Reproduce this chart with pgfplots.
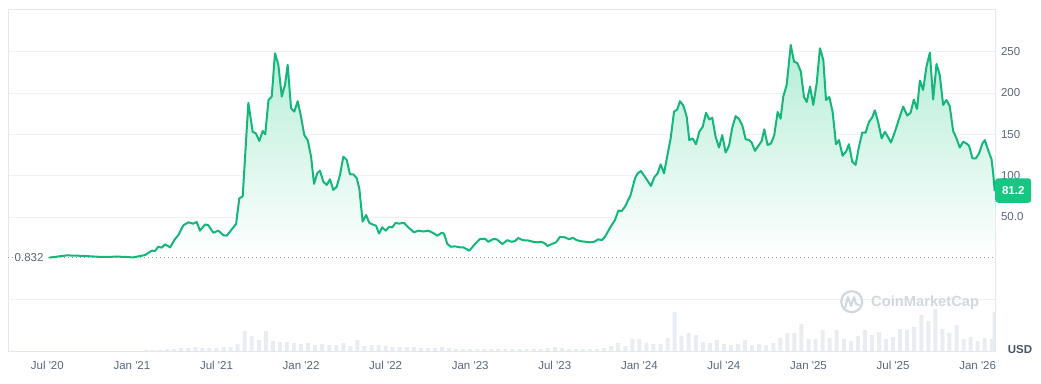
\documentclass[border=0pt]{standalone}
\usepackage{fontspec}
\setmainfont{Liberation Sans}[Ligatures=TeXOff]
\usepackage{pgfplots}
\usepackage{pgfplotstable}
\pgfplotsset{compat=1.18}
\definecolor{cmcgreen}{HTML}{16C784}
\definecolor{tickgray}{HTML}{58667E}
\definecolor{gridgray}{HTML}{EFF2F5}
\definecolor{framegray}{HTML}{E4E8EE}
\definecolor{volgray}{HTML}{E9ECF1}
\definecolor{wmgray}{HTML}{D2D7DF}
\definecolor{dotgray}{HTML}{9AA2AE}

\pgfplotstableread{
m p
6.14 0.9
7.38 3.6
8.55 3.0
9.74 1.8
10.92 2.0
11.16 2.0
12.08 1.2
12.58 2.8
12.93 4.0
13.41 9.3
13.64 9.0
13.87 14
14.12 13
14.35 17
14.71 13.3
15.06 23.4
15.29 28
15.65 40
16.00 43.5
16.36 42
16.60 44
16.83 33.5
17.19 41
17.42 40
17.78 31
18.13 33.5
18.49 28
18.73 27.4
19.08 35
19.39 41.5
19.62 72.6
19.86 75
20.26 188
20.57 153
20.80 151
21.04 142
21.28 154
21.46 150
21.69 191.5
21.92 195.6
22.15 248
22.39 234
22.63 195.6
22.86 209.7
23.05 234
23.29 181.5
23.52 177.4
23.76 190
24.00 171
24.23 149
24.47 143
24.71 123
24.92 90
25.15 103
25.34 106
25.58 92.7
25.82 88.7
26.05 95.6
26.29 82.7
26.53 86.7
26.76 100.8
27.00 123
27.24 119
27.47 101.6
27.71 101.6
27.95 96.8
28.13 84.7
28.37 44.4
28.61 52.4
28.84 43
29.08 41
29.32 39.5
29.53 30
29.76 37.5
30.01 33.5
30.24 38
30.47 37.5
30.71 43
30.95 42
31.30 43
31.61 37.5
32.01 31.5
32.32 33.5
32.67 32.5
33.03 33.5
33.34 31
33.67 27.4
33.98 31
34.14 30
34.38 17.3
34.62 14
34.92 14.5
35.28 13.3
35.51 13.3
35.94 9.3
36.34 17.3
36.70 23.4
37.05 23.8
37.28 20
37.64 23.4
37.88 23
38.28 17.3
38.63 22
38.94 20
39.18 21
39.41 24.6
39.72 22
40.12 21.6
40.48 20
40.79 19.4
41.07 20
41.36 17.3
41.47 15
41.78 17.3
42.09 19.4
42.37 26
42.73 25.4
43.03 23
43.27 25
43.55 22
43.91 20.6
44.21 20
44.50 19.4
44.78 20
45.09 23
45.33 22
45.56 26
45.92 37
46.27 46.4
46.51 57.7
46.75 57.3
46.98 62.5
47.38 76.6
47.69 96.8
47.88 102.8
48.11 105.6
48.47 96.8
48.82 87.5
49.06 98
49.30 102.8
49.51 113.7
49.75 102.8
49.98 123.8
50.22 145
50.46 177.4
50.69 180
50.88 190
51.12 184.7
51.36 171
51.54 143
51.78 145
52.02 138
52.25 153
52.49 159
52.73 176
52.96 168
53.17 170
53.41 147
53.65 134
53.88 149
54.12 128
54.36 136
54.59 158
54.83 172
55.07 168.5
55.30 161
55.54 144
55.78 143
55.97 140
56.20 130
56.44 136
56.68 142
56.86 156
57.10 137
57.34 139
57.57 149
57.81 177
58.02 169
58.21 195.6
58.45 209.7
58.74 258
58.97 238
59.21 236
59.45 226
59.68 195
59.87 189
60.11 207.7
60.34 185.5
60.58 211.7
60.81 254
61.05 240
61.24 191.5
61.48 195
61.71 177
61.95 138
62.16 143
62.42 124
62.66 129
62.87 138
63.10 117
63.34 113
63.58 135
63.81 152
64.05 152
64.29 165
64.52 170.6
64.71 179
64.95 164
65.19 145
65.42 153
65.66 146
65.85 140
66.13 153
66.41 168
66.72 183.5
67.00 172.6
67.24 176
67.47 192
67.70 180.6
67.90 215
68.13 203.6
68.37 232
68.61 248.8
68.84 192
69.08 235
69.31 221.8
69.55 185.5
69.79 191.5
70.02 184
70.26 154
70.50 145
70.73 134
70.97 141
71.21 139
71.39 136
71.63 121
71.87 121
72.10 127
72.34 139
72.51 143
72.74 131
72.98 120
73.10 103
73.21 81.2
}\pricedata

\pgfplotstableread{
m v
13 1
13.5 1
14 1
14.5 2
15 2
15.5 3
16 3
16.5 4
17 3
17.5 3
18 3
18.5 4
19 4
19.5 7
20 20
20.5 15
21 11
21.5 20
22 10
22.5 9
23 9
23.5 8
24 7
24.5 8
25 6
25.5 7
26 6
26.5 6
27 8
27.5 5
28 11
28.5 5
29 6
29.5 6
30 5
30.5 4
31 4
31.5 4
32 4
32.5 3
33 3
33.5 3
34 4
34.5 3
35 2
35.5 2
36 2
36.5 2
37 2
37.5 2
38 2
38.5 2
39 2
39.5 2
40 2
40.5 2
41 2
41.5 3
42 4
42.5 3
43 2
43.5 2
44 2
44.5 2
45 2
45.5 3
46 5
46.5 8
47 5
47.5 12
48 12
48.5 8
49 7
49.5 7
50 13
50.5 39
51 15
51.5 18
52 16
52.5 9
53 8
53.5 11
54 7
54.5 6
55 7
55.5 11
56 6
56.5 7
57 6
57.5 8
58 13
58.5 18
59 18
59.5 27
60 12
60.5 12
61 21
61.5 13
62 21
62.5 12
63 10
63.5 15
64 21
64.5 16
65 19
65.5 12
66 14
66.5 22
67 21
67.5 24
68 36
68.5 30
69 42
69.5 22
70 18
70.5 26
71 12
71.5 14
72 10
72.5 13
73 12
73.2 39
}\voldata

\begin{document}
\begin{tikzpicture}
\useasboundingbox (0,0) rectangle (1041pt,383pt);
% volume
\begin{axis}[at={(8pt,32pt)}, anchor=south west, width=987pt, height=342pt, scale only axis,
  xmin=3.21, xmax=73.23, ymin=0, ymax=342, hide axis]
\addplot[ybar, bar width=4pt, fill=volgray, draw=none] table[x=m,y=v]{\voldata};
\end{axis}
% price
\begin{axis}[at={(8pt,32pt)}, anchor=south west, width=987pt, height=342pt, scale only axis,
  xmin=3.21, xmax=73.23, ymin=-112, ymax=301.5,
  clip=false,
  axis line style={framegray, line width=0.8pt},
  xtick={6,12,18,24,30,36,42,48,54,60,66,72},
  xticklabels={Jul '20,Jan '21,Jul '21,Jan '22,Jul '22,Jan '23,Jul '23,Jan '24,Jul '24,Jan '25,Jul '25,Jan '26},
  ytick={50,100,150,200,250},
  yticklabels={50.0,100,150,200,250},
  yticklabel pos=right,
  ymajorgrids, grid style={gridgray, line width=0.8pt},
  extra y ticks={-50}, extra y tick labels={},
  extra y tick style={ymajorgrids=true},
  major tick length=0pt,
  /pgf/number format/assume math mode=true,
  tick label style={font=\fontsize{11.5}{13}\selectfont, text=tickgray},
  xticklabel style={yshift=-7pt},
  yticklabel style={anchor=west, xshift=2.5pt},
]
\addplot[draw=none, top color=cmcgreen!32!white, bottom color=white, forget plot]
  table[x=m,y=p]{\pricedata} \closedcycle;
\draw[dotgray, line width=1pt, dash pattern=on 1pt off 3pt] (axis cs:3.21,0.832) -- (axis cs:73.23,0.832);
\addplot[cmcgreen!92!black, line width=2pt, line join=round] table[x=m,y=p]{\pricedata};
\node[fill=white, anchor=west, inner sep=1.5pt, text=tickgray, font=\fontsize{11.5}{13}\selectfont, xshift=5pt] at (axis cs:3.21,0.832) {0.832};
\node[fill=cmcgreen, text=white, font=\bfseries\fontsize{11.5}{13}\selectfont, rounded corners=3pt,
  minimum width=36pt, minimum height=24.5pt, inner sep=0pt, anchor=west] at (axis cs:73.23,82) {81.2};
\end{axis}
% watermark and unit
\draw[wmgray, line width=2.2pt] (851.7pt,81.3pt) circle (10.5pt);
\draw[wmgray, line width=2pt, line join=round, line cap=round]
  (845pt,75pt) -- (848pt,86pt) -- (851pt,77pt) -- (854pt,86pt) -- (856pt,79pt) -- (859pt,78pt);
\node[anchor=west, text=wmgray, font=\bfseries\fontsize{14.7}{16}\selectfont, inner sep=0pt] at (871pt,80pt) {CoinMarketCap};
\node[text=tickgray!80!black, font=\bfseries\fontsize{11.5}{13}\selectfont, inner sep=0pt] at (1020pt,33pt) {USD};
\end{tikzpicture}
\end{document}
